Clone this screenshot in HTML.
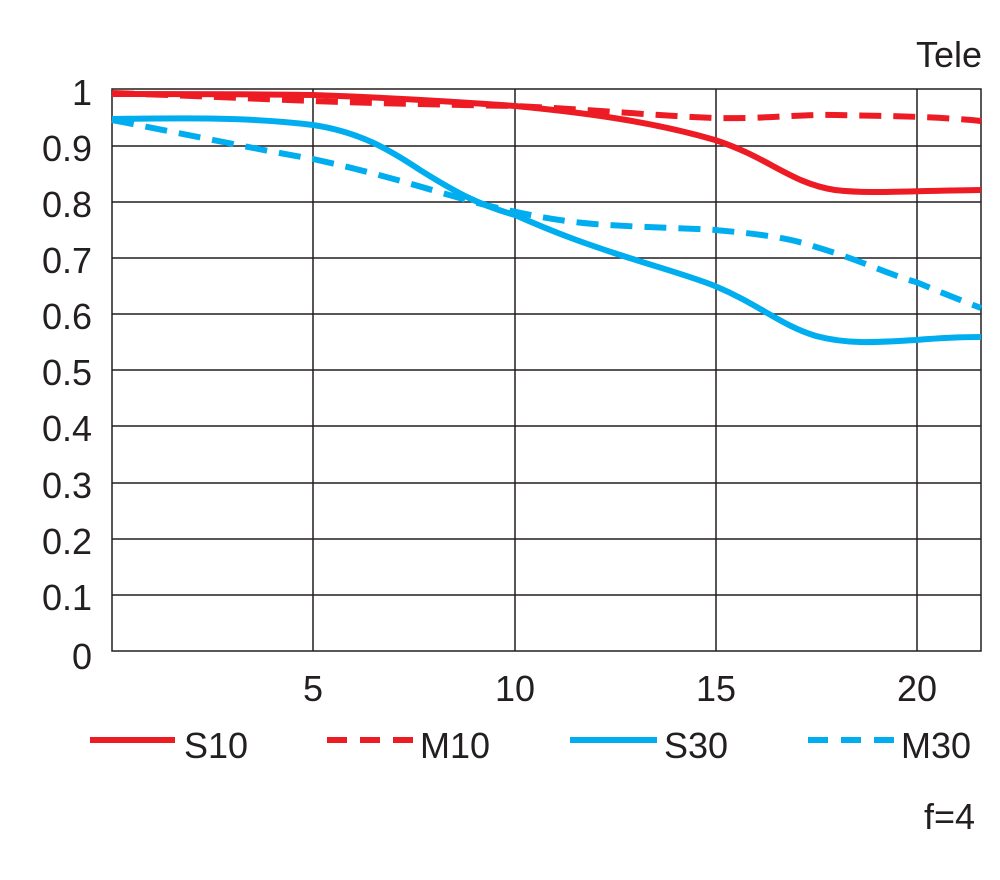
<!DOCTYPE html>
<html><head><style>
html,body{margin:0;padding:0;background:#fff;}
svg text{font-family:"Liberation Sans",sans-serif;fill:#231f20;}
</style></head><body>
<svg width="1000" height="875" viewBox="0 0 1000 875" xmlns="http://www.w3.org/2000/svg">
<g stroke="#231f20" stroke-width="1.5" fill="none">
<rect x="112" y="89" width="869" height="562"/>
<line x1="112" y1="146" x2="981" y2="146"/>
<line x1="112" y1="202" x2="981" y2="202"/>
<line x1="112" y1="258" x2="981" y2="258"/>
<line x1="112" y1="314" x2="981" y2="314"/>
<line x1="112" y1="370" x2="981" y2="370"/>
<line x1="112" y1="426" x2="981" y2="426"/>
<line x1="112" y1="483" x2="981" y2="483"/>
<line x1="112" y1="539" x2="981" y2="539"/>
<line x1="112" y1="595" x2="981" y2="595"/>
<line x1="313" y1="89" x2="313" y2="651"/>
<line x1="515" y1="89" x2="515" y2="651"/>
<line x1="716" y1="89" x2="716" y2="651"/>
<line x1="917" y1="89" x2="917" y2="651"/>
</g>
<g font-size="36" text-anchor="end">
<text x="92" y="105">1</text>
<text x="92" y="161">0.9</text>
<text x="92" y="217">0.8</text>
<text x="92" y="273">0.7</text>
<text x="92" y="329">0.6</text>
<text x="92" y="385">0.5</text>
<text x="92" y="441">0.4</text>
<text x="92" y="498">0.3</text>
<text x="92" y="554">0.2</text>
<text x="92" y="610">0.1</text>
<text x="92" y="669">0</text>
</g>
<g font-size="36" text-anchor="middle">
<text x="313" y="701">5</text>
<text x="515" y="701">10</text>
<text x="716" y="701">15</text>
<text x="917" y="701">20</text>
</g>
<text x="982" y="67" font-size="36" text-anchor="end">Tele</text>
<text x="975" y="829" font-size="36" text-anchor="end">f=4</text>
<g fill="none" stroke-width="6" stroke-linejoin="round">
<path stroke="#ed1c24" d="M112,94 C200,94 260,94 313,95 C400,98 460,102 515,106 C600,114 660,124 715,140 C770,158 790,183 835,190 C870,194 900,191 981,190"/>
<path stroke="#ed1c24" stroke-dasharray="22,12" d="M112,93 C200,96 260,99 313,101 C400,104 460,105 515,106 C600,110 660,116 715,118 C770,119 800,114 836,115 C880,116 930,116 981,121"/>
<path stroke="#00aeef" d="M112,119 C180,118 250,117 313,125 C360,132 390,150 420,170 C460,195 480,205 515,215 C560,235 590,245 614,253 C660,268 690,276 715,286 C760,305 780,325 816,336 C850,345 880,342 916,340 C940,338 960,337 981,337"/>
<path stroke="#00aeef" stroke-dasharray="22,12" d="M112,120 C200,137 260,150 313,159 C400,178 450,197 494,207 C540,218 570,222 594,224 C650,228 690,228 715,230 C760,234 790,238 816,247 C860,260 890,275 916,282 C940,292 960,300 981,308"/>
</g>
<g stroke-width="6" fill="none">
<line x1="90" y1="740" x2="175" y2="740" stroke="#ed1c24"/>
<line x1="327" y1="740" x2="413" y2="740" stroke="#ed1c24" stroke-dasharray="20,13"/>
<line x1="570" y1="740" x2="657" y2="740" stroke="#00aeef"/>
<line x1="808" y1="740" x2="894" y2="740" stroke="#00aeef" stroke-dasharray="20,13"/>
</g>
<g font-size="36">
<text x="184" y="758">S10</text>
<text x="420" y="758">M10</text>
<text x="664" y="758">S30</text>
<text x="901" y="758">M30</text>
</g>
</svg>
</body></html>
